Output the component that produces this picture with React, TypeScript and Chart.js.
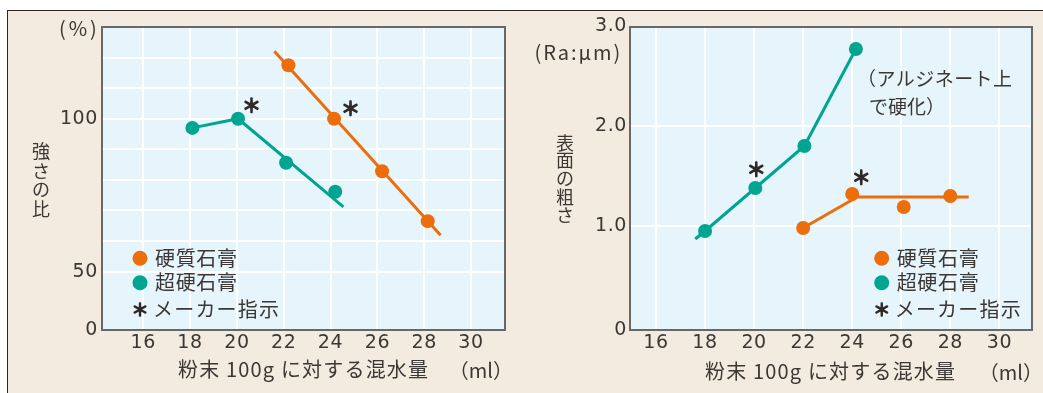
import React, { useEffect, useRef } from 'react';
import { Chart, registerables } from 'chart.js';

Chart.register(...registerables);

// ---------- colours / fonts ----------
const ORANGE = '#ec6d0c';
const TEAL = '#00a591';
const TEXT = '#3b3735';
const PLOT_BG = '#e6f4fc';
const FRAME_BG = '#f3ebdf';
const BORDER = '#6a6866';
const JP = '"Noto Sans CJK JP", "Noto Sans", sans-serif';
const NUM = '"DejaVu Sans", "Noto Sans", sans-serif';

// ---------- shared ----------
const waterTicks = [16, 18, 20, 22, 24, 26, 28, 30];
const legendLabels = ['硬質石膏', '超硬石膏', 'メーカー指示'];
const xAxisTitle = '粉末 100g に対する混水量';
const xAxisUnit = '（ml）';
const makerMark = '＊';

// ---------- left panel: strength ratio ----------
const strengthTitle = ['強', 'さ', 'の', '比'];
const strengthUnit = '(%)';
const strengthHardX = [22.2, 24.15, 26.2, 28.15];
const strengthHardY = [117.5, 100, 82.8, 66.5];
const strengthSuperX = [18.1, 20.05, 22.1, 24.2];
const strengthSuperY = [97.0, 100, 85.6, 76.1];
const strengthHardFitX = [21.6, 28.7];
const strengthHardFitY = [122.1, 61.9];
const strengthSuperFitX = [18.1, 20.05, 24.55];
const strengthSuperFitY = [97.0, 100, 71.2];
const strengthGrid = [50, 60, 70, 80, 90, 100, 110, 120, 130];
const strengthTickText: Record<number, string> = { 50: '50', 100: '100' };
const strengthZeroText = '0';
const strengthMakerIndex = 1;

// ---------- right panel: surface roughness ----------
const roughTitle = ['表', '面', 'の', '粗', 'さ'];
const roughUnit = '(Ra:μm)';
const roughNote = ['（アルジネート上', 'で硬化）'];
const roughHardX = [22, 24, 26.1, 28];
const roughHardY = [0.98, 1.32, 1.19, 1.3];
const roughSuperX = [18, 20.05, 22.05, 24.15];
const roughSuperY = [0.95, 1.38, 1.8, 2.77];
const roughHardFitX = [22, 24.2, 28.75];
const roughHardFitY = [0.98, 1.29, 1.29];
const roughSuperFitX = [17.6, 18, 20.05, 22.05, 24.15];
const roughSuperFitY = [0.87, 0.95, 1.38, 1.8, 2.77];
const roughGrid = [1, 2, 3];
const roughTickText: Record<number, string> = { 1: '1.0', 2: '2.0', 3: '3.0' };
const roughZeroText = '0';
const roughMakerIndex = 1;

const zip = (xs: number[], ys: number[]) => xs.map((x, i) => ({ x, y: ys[i] }));

function inkText(
  ctx: CanvasRenderingContext2D,
  text: string,
  font: string,
  x: number,
  cy: number,
  align: 'left' | 'right' | 'center',
  opts: { color?: string; fitWidth?: number; stroke?: number } = {}
) {
  const c: any = ctx;
  ctx.save();
  ctx.font = font;
  ctx.fillStyle = opts.color ?? TEXT;
  ctx.textAlign = 'left';
  ctx.textBaseline = 'alphabetic';
  if ('letterSpacing' in c) c.letterSpacing = '0px';
  let m = ctx.measureText(text);
  let w = m.actualBoundingBoxLeft + m.actualBoundingBoxRight;
  if (opts.fitWidth && 'letterSpacing' in c) {
    const n = Array.from(text).length;
    if (n > 1) {
      c.letterSpacing = `${(opts.fitWidth - w) / (n - 1)}px`;
      m = ctx.measureText(text);
      w = opts.fitWidth;
    }
  }
  const left = align === 'left' ? x : align === 'right' ? x - w : x - w / 2;
  const px = left + m.actualBoundingBoxLeft;
  const py = cy + (m.actualBoundingBoxAscent - m.actualBoundingBoxDescent) / 2;
  if (opts.stroke) {
    ctx.strokeStyle = opts.color ?? TEXT;
    ctx.lineWidth = opts.stroke;
    ctx.lineJoin = 'round';
    ctx.strokeText(text, px, py);
  }
  ctx.fillText(text, px, py);
  ctx.restore();
}

interface PanelSpec {
  width: number;
  height: number;
  plot: { left: number; right: number; top: number; bottom: number };
  xMin: number;
  xMax: number;
  yMin: number;
  yMax: number;
  yGrid: number[];
  yText: (v: number) => string;
  yPad: number;
  hardX: number[]; hardY: number[]; hardFitX: number[]; hardFitY: number[];
  superX: number[]; superY: number[]; superFitX: number[]; superFitY: number[];
  decorate: (chart: Chart) => void;
}

function buildChart(canvas: HTMLCanvasElement, p: PanelSpec) {
  const plugin = {
    id: 'panelDecor',
    beforeDraw(chart: Chart) {
      const { ctx, chartArea: a } = chart;
      ctx.save();
      ctx.fillStyle = PLOT_BG;
      ctx.fillRect(a.left, a.top, a.right - a.left, a.bottom - a.top);
      ctx.restore();
      const c: any = ctx;
      if ('letterSpacing' in c) c.letterSpacing = '0.6px';
    },
    beforeDatasetsDraw(chart: Chart) {
      const { ctx, chartArea: a } = chart;
      const c: any = ctx;
      if ('letterSpacing' in c) c.letterSpacing = '0px';
      ctx.save();
      ctx.strokeStyle = BORDER;
      ctx.lineWidth = 2;
      ctx.strokeRect(a.left, a.top, a.right - a.left, a.bottom - a.top);
      ctx.restore();
    },
    afterDraw(chart: Chart) {
      p.decorate(chart);
    },
  };

  return new Chart(canvas, {
    type: 'scatter',
    data: {
      datasets: [
        { data: zip(p.hardFitX, p.hardFitY), showLine: true, borderColor: ORANGE, borderWidth: 3, pointRadius: 0, order: 2 },
        { data: zip(p.superFitX, p.superFitY), showLine: true, borderColor: TEAL, borderWidth: 3, pointRadius: 0, order: 2 },
        { data: zip(p.hardX, p.hardY), showLine: false, backgroundColor: ORANGE, borderWidth: 0, pointRadius: 7, order: 1 },
        { data: zip(p.superX, p.superY), showLine: false, backgroundColor: TEAL, borderWidth: 0, pointRadius: 7, order: 1 },
      ],
    },
    options: {
      responsive: false,
      animation: false,
      events: [],
      layout: { padding: { left: 0, top: p.plot.top, right: p.width - p.plot.right, bottom: 0 } },
      plugins: { legend: { display: false }, tooltip: { enabled: false } },
      scales: {
        x: {
          type: 'linear',
          min: p.xMin,
          max: p.xMax,
          afterFit: (s: any) => { s.height = p.height - p.plot.bottom; },
          afterBuildTicks: (s: any) => { s.ticks = waterTicks.map((v) => ({ value: v })); },
          ticks: { color: TEXT, font: { family: NUM, size: 19 }, padding: 2, callback: (v: any) => String(v), maxRotation: 0 },
          grid: { color: '#ffffff', lineWidth: 2, drawTicks: false },
          border: { display: false },
        },
        y: {
          type: 'linear',
          min: p.yMin,
          max: p.yMax,
          afterFit: (s: any) => { s.width = p.plot.left; },
          afterBuildTicks: (s: any) => { s.ticks = [p.yMin, ...p.yGrid].map((v) => ({ value: v })); },
          ticks: { color: TEXT, font: { family: NUM, size: 19 }, padding: p.yPad, callback: (v: any) => p.yText(Number(v)) },
          grid: {
            lineWidth: 2,
            drawTicks: false,
            color: (c: any) => (c.tick && (c.tick.value === p.yMin || c.tick.value >= p.yMax - 1e-6) ? 'rgba(0,0,0,0)' : '#ffffff'),
          },
          border: { display: false },
        },
      },
    },
    plugins: [plugin],
  } as any);
}

function drawLegend(ctx: CanvasRenderingContext2D, cx: number, textLeft: number, rows: number[]) {
  const colors = [ORANGE, TEAL];
  for (let i = 0; i < 2; i++) {
    ctx.save();
    ctx.fillStyle = colors[i];
    ctx.beginPath();
    ctx.arc(cx, rows[i], 7.5, 0, Math.PI * 2);
    ctx.fill();
    ctx.restore();
    inkText(ctx, legendLabels[i], `20px ${JP}`, textLeft, rows[i], 'left', { fitWidth: 81 });
  }
  inkText(ctx, makerMark, `17px ${JP}`, cx, rows[2], 'center', { stroke: 1.4, color: '#2e2a28' });
  inkText(ctx, legendLabels[2], `20px ${JP}`, textLeft, rows[2], 'left', { fitWidth: 123 });
}

function drawMaker(chart: Chart, dsIndex: number, idx: number, dx: number, dy: number) {
  const el: any = chart.getDatasetMeta(dsIndex).data[idx];
  if (!el) return;
  inkText(chart.ctx, makerMark, `19px ${JP}`, el.x + dx, el.y + dy, 'center', { stroke: 1.5, color: '#2e2a28' });
}

const H = 393;

const leftSpec: PanelSpec = {
  width: 520,
  height: H,
  plot: { left: 102, right: 505, top: 27, bottom: 330 },
  xMin: 14.24,
  xMax: 31.45,
  yMin: 30.9,
  yMax: 130,
  yGrid: strengthGrid,
  yText: (v) => (v < 50 ? strengthZeroText : strengthTickText[v] ?? ''),
  yPad: 4,
  hardX: strengthHardX, hardY: strengthHardY, hardFitX: strengthHardFitX, hardFitY: strengthHardFitY,
  superX: strengthSuperX, superY: strengthSuperY, superFitX: strengthSuperFitX, superFitY: strengthSuperFitY,
  decorate: (chart) => {
    const ctx = chart.ctx;
    inkText(ctx, strengthUnit, `20px ${JP}`, 95, 29.5, 'right', { fitWidth: 35 });
    strengthTitle.forEach((ch, i) => inkText(ctx, ch, `18px ${JP}`, 41, 151.5 + i * 19, 'center'));
    drawLegend(ctx, 140, 155, [258.3, 282.7, 309]);
    inkText(ctx, xAxisTitle, `20px ${JP}`, 178, 370, 'left', { fitWidth: 250 });
    inkText(ctx, xAxisUnit, `20px ${JP}`, 500, 370, 'right');
    drawMaker(chart, 3, strengthMakerIndex, 13.5, -13);
    drawMaker(chart, 2, strengthMakerIndex, 16.5, -10);
  },
};

const rightSpec: PanelSpec = {
  width: 523,
  height: H,
  plot: { left: 110, right: 512, top: 27, bottom: 330 },
  xMin: 14.94,
  xMax: 31.33,
  yMin: -0.04,
  yMax: 2.99,
  yGrid: roughGrid,
  yText: (v) => (v < 0.5 ? roughZeroText : roughTickText[Math.round(v)] ?? ''),
  yPad: 3,
  hardX: roughHardX, hardY: roughHardY, hardFitX: roughHardFitX, hardFitY: roughHardFitY,
  superX: roughSuperX, superY: roughSuperY, superFitX: roughSuperFitX, superFitY: roughSuperFitY,
  decorate: (chart) => {
    const ctx = chart.ctx;
    inkText(ctx, roughUnit, `20px ${JP}`, 98.5, 53.3, 'right', { fitWidth: 83 });
    roughTitle.forEach((ch, i) => inkText(ctx, ch, `18px ${JP}`, 45, 142.5 + i * 18.1, 'center'));
    inkText(ctx, roughNote[0], `19px ${JP}`, 350, 78, 'left', { fitWidth: 142 });
    inkText(ctx, roughNote[1], `19px ${JP}`, 350, 106.7, 'left');
    drawLegend(ctx, 361.7, 376.7, [258.3, 282.7, 309]);
    inkText(ctx, xAxisTitle, `20px ${JP}`, 185, 372, 'left', { fitWidth: 250 });
    inkText(ctx, xAxisUnit, `20px ${JP}`, 510, 372, 'right');
    drawMaker(chart, 3, roughMakerIndex, 1, -19);
    drawMaker(chart, 2, roughMakerIndex, 9, -16.5);
  },
};

function Panel({ spec, left }: { spec: PanelSpec; left: number }) {
  const ref = useRef<HTMLCanvasElement>(null);
  useEffect(() => {
    if (!ref.current) return;
    const chart = buildChart(ref.current, spec);
    return () => chart.destroy();
  }, [spec]);
  return (
    <canvas
      ref={ref}
      width={spec.width}
      height={spec.height}
      style={{ position: 'absolute', left, top: 0, width: spec.width, height: spec.height, display: 'block' }}
    />
  );
}

export default function App() {
  return (
    <div style={{ position: 'absolute', left: 0, top: 0, width: 1043, height: H, background: '#ffffff', overflow: 'hidden' }}>
      <div
        style={{
          position: 'absolute',
          left: 7,
          top: 10,
          width: 1040,
          height: H,
          background: FRAME_BG,
          borderTop: '1px solid #2e2522',
          borderLeft: '1px solid #2e2522',
        }}
      />
      <Panel spec={leftSpec} left={0} />
      <Panel spec={rightSpec} left={520} />
    </div>
  );
}
